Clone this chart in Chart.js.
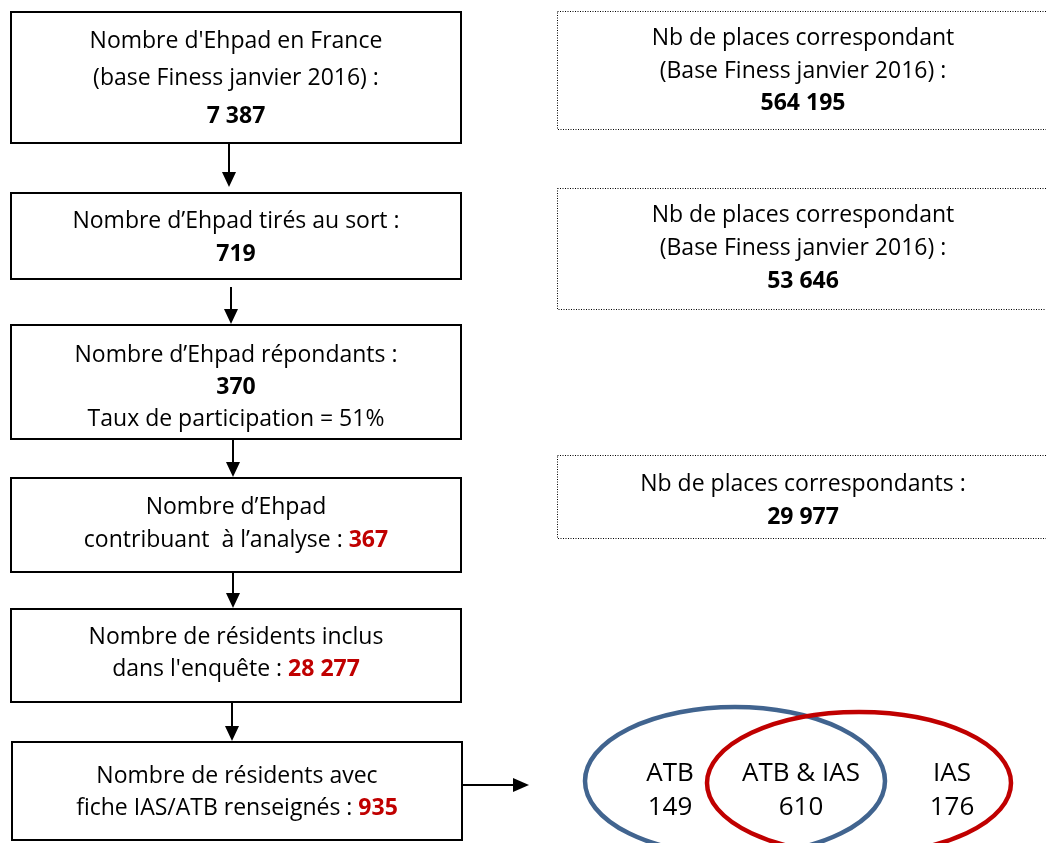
<!DOCTYPE html>
<html><head><meta charset="utf-8">
<script src="https://cdn.jsdelivr.net/npm/chart.js@4/dist/chart.umd.min.js"></script>
<style>html,body{margin:0;padding:0;background:#fff}#wrap{width:1046px;height:843px}</style>
</head><body><div id="wrap"><canvas id="c" width="1046" height="843"></canvas></div>
<script>
// ---- data ----
const stepTexts = [
  ["Nombre d'Ehpad en France", "(base Finess janvier 2016) :"],
  ["Nombre d\u2019Ehpad tirés au sort :"],
  ["Nombre d\u2019Ehpad répondants :"],
  ["Nombre d\u2019Ehpad", "contribuant  à l\u2019analyse : "],
  ["Nombre de résidents inclus", "dans l'enquête : "],
  ["Nombre de résidents avec", "fiche IAS/ATB renseignés : "]
];
const stepValues = [7387, 719, 370, 367, 28277, 935];
const stepNotes = ["", "", "Taux de participation = 51%", "", "", ""];
const placeTexts = [
  ["Nb de places correspondant", "(Base Finess janvier 2016) :"],
  ["Nb de places correspondant", "(Base Finess janvier 2016) :"],
  ["Nb de places correspondants :"]
];
const placeValues = [564195, 53646, 29977];
const vennLabels = ["ATB", "ATB & IAS", "IAS"];
const vennValues = [149, 610, 176];

// ---- layout (pixel-space coordinates on a 1046x843 scale) ----
const leftBoxes = [
  {x0:11,x1:461,y0:12,y1:143, lines:[41,78,116], inline:false},
  {x0:11,x1:461,y0:193,y1:279, lines:[221,254], inline:false},
  {x0:11,x1:461,y0:325,y1:439, lines:[355,387,419], inline:false},
  {x0:11,x1:461,y0:478,y1:572, lines:[507,540], inline:true},
  {x0:11,x1:461,y0:609,y1:702, lines:[637,669], inline:true},
  {x0:12,x1:462,y0:742,y1:840, lines:[776,808], inline:true}
];
const arrows = [[229,143,187],[231,287,324],[233,439,477],[233,572,608],[232,702,741]];
const rightBoxes = [
  {x0:557,x1:1050,y0:11,y1:129, lines:[38,71,103]},
  {x0:557,x1:1050,y0:188,y1:309, lines:[215,248,281]},
  {x0:557,x1:1050,y0:455,y1:538, lines:[484,517]}
];
const FONT = "'Open Sans', Lato, sans-serif";
const fmt = v => String(v).replace(/\B(?=(\d{3})+(?!\d))/g, " ");
const RED = "#C00000";

function drawRich(ctx, cx, y, segs) {
  let total = 0;
  segs.forEach(s => { ctx.font = s.font; s.w = ctx.measureText(s.t).width; total += s.w; });
  let x = cx - total/2;
  segs.forEach(s => { ctx.font = s.font; ctx.fillStyle = s.color; ctx.textAlign = "left"; ctx.fillText(s.t, x, y); x += s.w; });
}

const flowPlugin = {
  id: 'flow',
  afterDraw(chart) {
    const ctx = chart.ctx, sx = chart.scales.x, sy = chart.scales.y;
    const X = v => sx.getPixelForValue(v), Y = v => sy.getPixelForValue(v);
    const REG = "23px " + FONT, BOLD = "bold 23px " + FONT;
    ctx.save();
    ctx.textBaseline = "middle";
    // left boxes
    leftBoxes.forEach((b, i) => {
      ctx.strokeStyle = "#000"; ctx.lineWidth = 2; ctx.setLineDash([]);
      ctx.strokeRect(X(b.x0), Y(b.y0), X(b.x1)-X(b.x0), Y(b.y1)-Y(b.y0));
      const cx = X((b.x0+b.x1)/2);
      const t = stepTexts[i];
      let li = 0;
      if (b.inline) {
        drawRich(ctx, cx, Y(b.lines[0]), [{t:t[0], font:REG, color:"#000"}]);
        drawRich(ctx, cx, Y(b.lines[1]), [{t:t[1], font:REG, color:"#000"}, {t:fmt(stepValues[i]), font:BOLD, color:RED}]);
      } else {
        t.forEach(line => { drawRich(ctx, cx, Y(b.lines[li++]), [{t:line, font:REG, color:"#000"}]); });
        drawRich(ctx, cx, Y(b.lines[li++]), [{t:fmt(stepValues[i]), font:BOLD, color:"#000"}]);
        if (stepNotes[i]) drawRich(ctx, cx, Y(b.lines[li++]), [{t:stepNotes[i], font:REG, color:"#000"}]);
      }
    });
    // arrows
    const arrowDown = (x, y0, y1) => {
      ctx.strokeStyle = "#000"; ctx.fillStyle = "#000"; ctx.lineWidth = 2;
      ctx.beginPath(); ctx.moveTo(X(x), Y(y0)); ctx.lineTo(X(x), Y(y1-14)); ctx.stroke();
      ctx.beginPath(); ctx.moveTo(X(x)-7, Y(y1-15)); ctx.lineTo(X(x)+7, Y(y1-15)); ctx.lineTo(X(x), Y(y1)); ctx.closePath(); ctx.fill();
    };
    arrows.forEach(a => arrowDown(a[0], a[1], a[2]));
    // horizontal arrow
    ctx.lineWidth = 2;
    ctx.beginPath(); ctx.moveTo(X(462), Y(785)); ctx.lineTo(X(514), Y(785)); ctx.stroke();
    ctx.beginPath(); ctx.moveTo(X(513), Y(778)); ctx.lineTo(X(513), Y(792)); ctx.lineTo(X(529), Y(785)); ctx.closePath(); ctx.fill();
    // right dotted boxes
    rightBoxes.forEach((b, i) => {
      ctx.strokeStyle = "#000"; ctx.lineWidth = 1; ctx.setLineDash([1,1.5]);
      ctx.strokeRect(X(b.x0)+0.5, Y(b.y0)+0.5, X(b.x1)-X(b.x0), Y(b.y1)-Y(b.y0));
      ctx.setLineDash([]);
      const cx = X(803);
      let li = 0;
      placeTexts[i].forEach(line => drawRich(ctx, cx, Y(b.lines[li++]), [{t:line, font:REG, color:"#000"}]));
      drawRich(ctx, cx, Y(b.lines[li]), [{t:fmt(placeValues[i]), font:BOLD, color:"#000"}]);
    });
    // venn
    ctx.lineWidth = 4.5;
    ctx.strokeStyle = "#41648F";
    ctx.beginPath(); ctx.ellipse(X(735), Y(781), 150, 74, 0, 0, Math.PI*2); ctx.stroke();
    ctx.strokeStyle = RED;
    ctx.beginPath(); ctx.ellipse(X(859), Y(783), 152, 71, 0, 0, Math.PI*2); ctx.stroke();
    const VF = "26px " + FONT;
    const vx = [670, 801, 952];
    vennLabels.forEach((l, i) => {
      drawRich(ctx, X(vx[i]), Y(774), [{t:l, font:VF, color:"#000"}]);
      drawRich(ctx, X(vx[i]), Y(808), [{t:String(vennValues[i]), font:VF, color:"#000"}]);
    });
    ctx.restore();
  }
};

new Chart(document.getElementById('c'), {
  type: 'scatter',
  data: { datasets: [{ data: [], pointRadius: 0 }] },
  options: {
    responsive: false, animation: false, devicePixelRatio: 1,
    layout: { padding: 0 },
    plugins: { legend: {display:false}, tooltip: {enabled:false} },
    scales: {
      x: { type:'linear', min:0, max:1046, display:false },
      y: { type:'linear', min:0, max:843, reverse:true, display:false }
    }
  },
  plugins: [flowPlugin]
});
</script>
</body></html>
